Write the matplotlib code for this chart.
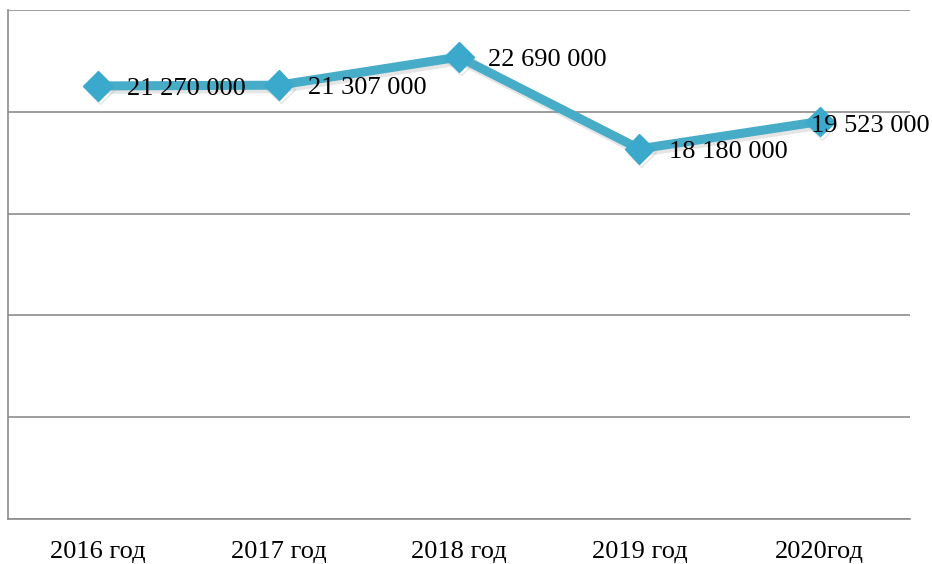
import matplotlib.pyplot as plt
import matplotlib.patheffects as pe

# data
years = ["2016 год", "2017 год", "2018 год", "2019 год", "2020год"]
values = [21270000, 21307000, 22690000, 18180000, 19523000]
value_labels = ["21 270 000", "21 307 000", "22 690 000", "18 180 000", "19 523 000"]

plt.rcParams["font.family"] = ["Liberation Serif", "DejaVu Serif"]

fig = plt.figure(figsize=(9.32, 5.64), dpi=100)
ax = fig.add_axes([8 / 932, 1 - 519 / 564, 902 / 932, 509 / 564])

line_color = "#46acc8"
x = list(range(len(years)))
ax.plot(x, values, color=line_color, linewidth=6.5, marker="D", markersize=15,
        markerfacecolor="#3aa9cb", markeredgecolor="#3aa9cb", zorder=3,
        path_effects=[pe.SimpleLineShadow(offset=(1.5, -2.5), shadow_color="#999999", alpha=0.25),
                      pe.Normal()])

ax.set_xlim(-0.5, len(years) - 0.5)
ax.set_ylim(0, 25000000)
ax.set_yticks(range(0, 25000001, 5000000))
ax.set_xticks(x)
ax.set_xticklabels(years, fontsize=19)
ax.tick_params(axis="x", length=0, pad=16)
ax.tick_params(axis="y", length=0, labelleft=False)
ax.grid(axis="y", color="#8c8c8c", linewidth=1.2)
ax.set_axisbelow(True)

for side in ["top", "right"]:
    ax.spines[side].set_visible(False)
for side in ["left", "bottom"]:
    ax.spines[side].set_color("#8c8c8c")
    ax.spines[side].set_linewidth(1.2)

# value labels, the last one pulled back so it stays inside the figure
for i, (v, lab) in enumerate(zip(values, value_labels)):
    if i == len(values) - 1:
        ax.annotate(lab, (i, v), xytext=(-6, -3), textcoords="offset points",
                    ha="left", va="center", fontsize=19, zorder=4)
    else:
        ax.annotate(lab, (i, v), xytext=(21, -2), textcoords="offset points",
                    ha="left", va="center", fontsize=19, zorder=4)

fig.savefig("out.png", dpi=100)
